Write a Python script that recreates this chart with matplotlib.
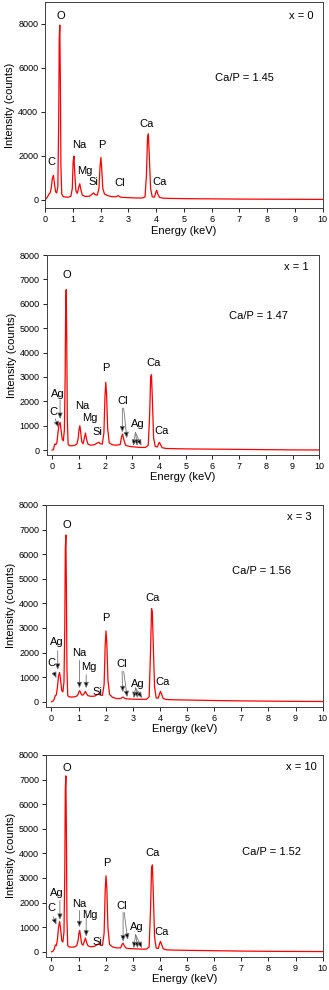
import matplotlib
matplotlib.use("Agg")
import matplotlib.pyplot as plt

plt.rcParams['font.family'] = ['Liberation Sans', 'DejaVu Sans']

# shared energy grid (keV)
energy = [0.00, 0.05, 0.10, 0.14, 0.18, 0.22, 0.26, 0.30, 0.34, 0.38, 0.42, 0.46,
          0.49, 0.51, 0.53, 0.55, 0.57, 0.60, 0.65, 0.75, 0.85, 0.93, 0.98, 1.01,
          1.04, 1.07, 1.11, 1.16, 1.21, 1.25, 1.29, 1.34, 1.45, 1.60, 1.70, 1.75,
          1.80, 1.88, 1.94, 1.98, 2.01, 2.04, 2.08, 2.14, 2.25, 2.40, 2.55, 2.60,
          2.64, 2.68, 2.75, 2.90, 3.10, 3.30, 3.50, 3.60, 3.65, 3.69, 3.72, 3.75,
          3.80, 3.86, 3.94, 3.99, 4.02, 4.06, 4.12, 4.25, 4.5, 5, 6, 7, 8, 9, 10]

counts_x0 = [0, 50, 150, 250, 300, 500, 950, 1100, 700, 350, 300, 600,
             3500, 7300, 7950, 5500, 1500, 250, 130, 110, 110, 150, 500, 1700,
             1980, 1200, 400, 280, 550, 720, 450, 200, 140, 150, 250, 300,
             220, 200, 500, 1500, 1920, 1400, 500, 250, 180, 130, 120, 160,
             180, 130, 100, 90, 80, 70, 70, 120, 1100, 2800, 2990, 2100,
             500, 120, 110, 330, 420, 250, 100, 60, 50, 40, 30, 20, 15, 10, 5]

counts_x1 = [0, 20, 250, 230, 300, 700, 1050, 1140, 800, 450, 380, 800,
             3000, 6000, 6580, 4500, 1300, 250, 180, 180, 200, 250, 500, 850,
             1000, 750, 350, 260, 500, 700, 450, 250, 200, 230, 300, 320,
             260, 250, 700, 2200, 2780, 2300, 900, 300, 220, 200, 230, 550,
             660, 450, 200, 150, 130, 110, 110, 200, 1400, 3000, 3090, 2200,
             500, 150, 130, 270, 320, 220, 100, 70, 60, 50, 40, 30, 20, 10, 5]

counts_x3 = [0, 20, 100, 250, 280, 600, 1050, 1190, 850, 450, 400, 800,
             3000, 6200, 6780, 4600, 1300, 250, 200, 190, 200, 230, 300, 400,
             450, 380, 280, 270, 350, 420, 330, 250, 220, 230, 300, 320,
             270, 260, 700, 2300, 2880, 2400, 900, 300, 180, 130, 130, 170,
             190, 150, 120, 110, 100, 100, 100, 200, 2000, 3790, 3600, 2400,
             600, 150, 150, 350, 420, 300, 130, 90, 80, 70, 50, 35, 25, 15, 10]

counts_x10 = [0, 20, 100, 280, 250, 500, 1000, 1230, 900, 450, 400, 800,
              3200, 6600, 7150, 4800, 1300, 250, 200, 190, 200, 250, 450, 750,
              870, 650, 330, 270, 420, 560, 400, 250, 200, 230, 300, 320,
              270, 260, 750, 2500, 3090, 2600, 1000, 300, 200, 160, 160, 300,
              350, 250, 150, 130, 120, 110, 110, 200, 1700, 3400, 3530, 2500,
              600, 150, 140, 350, 420, 300, 120, 80, 70, 60, 45, 30, 20, 15, 10]

panel_names = ["x = 0", "x = 1", "x = 3", "x = 10"]
ratios = ["Ca/P = 1.45", "Ca/P = 1.47", "Ca/P = 1.56", "Ca/P = 1.52"]

fig = plt.figure(figsize=(3.29, 9.9), dpi=100)

positions = [[0.137, 0.7896, 0.844, 0.2084],
             [0.142, 0.5404, 0.8285, 0.202],
             [0.140, 0.2862, 0.841, 0.2037],
             [0.140, 0.0336, 0.841, 0.2038]]

arrow = dict(arrowstyle='-|>,head_length=0.35,head_width=0.15', ec='0.45', fc='k',
             lw=0.6, shrinkA=0, shrinkB=0)
fs = 8


def setup(ax, ymax, ystep, xmin, ymin):
    ax.set_xlim(xmin, 10)
    ax.set_ylim(ymin, ymax)
    ax.set_xticks(range(0, 11))
    ax.set_yticks(range(0, 8001, ystep))
    ax.tick_params(direction='out', length=3, width=0.6, labelsize=6.5, pad=2)
    for s in ax.spines.values():
        s.set_linewidth(0.7)
        s.set_color('0.25')
    ax.set_xlabel("Energy (keV)", fontsize=8, labelpad=1)
    ax.set_ylabel("Intensity (counts)", fontsize=8, labelpad=2)


all_counts = [counts_x0, counts_x1, counts_x3, counts_x10]
axes = []
for i in range(4):
    ax = fig.add_axes(positions[i])
    ax.plot(energy, all_counts[i], color='red', lw=0.9)
    if i == 0:
        setup(ax, 9000, 2000, 0, -400)
    else:
        setup(ax, 8000, 1000, -0.2, -200)
    axes.append(ax)

# panel x = 0
ax = axes[0]
ax.text(0.58, 8380, "O", fontsize=fs, ha='center', va='center')
ax.text(9.24, 8380, panel_names[0], fontsize=fs, ha='center', va='center')
ax.text(7.18, 5550, ratios[0], fontsize=fs, ha='center', va='center')
ax.text(0.24, 1700, "C", fontsize=fs, ha='center', va='center')
ax.text(1.22, 2490, "Na", fontsize=fs, ha='center', va='center')
ax.text(1.42, 1310, "Mg", fontsize=fs, ha='center', va='center')
ax.text(1.74, 780, "Si", fontsize=fs, ha='center', va='center')
ax.text(2.06, 2490, "P", fontsize=fs, ha='center', va='center')
ax.text(2.70, 750, "Cl", fontsize=fs, ha='center', va='center')
ax.text(3.66, 3440, "Ca", fontsize=fs, ha='center', va='center')
ax.text(4.14, 780, "Ca", fontsize=fs, ha='center', va='center')

# panel x = 1
ax = axes[1]
ax.text(0.56, 7170, "O", fontsize=fs, ha='center', va='center')
ax.text(9.13, 7520, panel_names[1], fontsize=fs, ha='center', va='center')
ax.text(7.73, 5490, ratios[1], fontsize=fs, ha='center', va='center')
ax.text(0.20, 2300, "Ag", fontsize=fs, ha='center', va='center')
ax.annotate("", xy=(0.30, 1280), xytext=(0.30, 2060), arrowprops=arrow)
ax.text(0.05, 1550, "C", fontsize=fs, ha='center', va='center')
ax.annotate("", xy=(0.24, 930), xytext=(0.12, 1280), arrowprops=arrow)
ax.text(1.12, 1820, "Na", fontsize=fs, ha='center', va='center')
ax.text(1.42, 1320, "Mg", fontsize=fs, ha='center', va='center')
ax.text(1.70, 750, "Si", fontsize=fs, ha='center', va='center')
ax.text(2.02, 3360, "P", fontsize=fs, ha='center', va='center')
ax.text(2.63, 2000, "Cl", fontsize=fs, ha='center', va='center')
ax.annotate("", xy=(2.63, 730), xytext=(2.63, 1720), arrowprops=arrow)
ax.annotate("", xy=(2.80, 490), xytext=(2.68, 1720), arrowprops=arrow)
ax.text(3.22, 1070, "Ag", fontsize=fs, ha='center', va='center')
for xt in [3.04, 3.19, 3.34]:
    ax.annotate("", xy=(xt, 180), xytext=(3.12, 730), arrowprops=arrow)
ax.text(3.78, 3570, "Ca", fontsize=fs, ha='center', va='center')
ax.text(4.11, 770, "Ca", fontsize=fs, ha='center', va='center')

# panel x = 3
ax = axes[2]
ax.text(0.55, 7190, "O", fontsize=fs, ha='center', va='center')
ax.text(9.14, 7520, panel_names[2], fontsize=fs, ha='center', va='center')
ax.text(7.75, 5330, ratios[2], fontsize=fs, ha='center', va='center')
ax.text(0.18, 2410, "Ag", fontsize=fs, ha='center', va='center')
ax.annotate("", xy=(0.23, 1300), xytext=(0.23, 2080), arrowprops=arrow)
ax.text(0.0, 1570, "C", fontsize=fs, ha='center', va='center')
ax.annotate("", xy=(0.18, 960), xytext=(0.09, 1190), arrowprops=arrow)
ax.text(1.03, 2000, "Na", fontsize=fs, ha='center', va='center')
ax.annotate("", xy=(1.03, 550), xytext=(1.03, 1680), arrowprops=arrow)
ax.text(1.37, 1430, "Mg", fontsize=fs, ha='center', va='center')
ax.annotate("", xy=(1.28, 550), xytext=(1.28, 1100), arrowprops=arrow)
ax.text(1.68, 390, "Si", fontsize=fs, ha='center', va='center')
ax.text(2.02, 3400, "P", fontsize=fs, ha='center', va='center')
ax.text(2.60, 1540, "Cl", fontsize=fs, ha='center', va='center')
ax.annotate("", xy=(2.63, 390), xytext=(2.60, 1240), arrowprops=arrow)
ax.annotate("", xy=(2.79, 190), xytext=(2.66, 1240), arrowprops=arrow)
ax.text(3.18, 730, "Ag", fontsize=fs, ha='center', va='center')
for xt in [3.03, 3.18, 3.34]:
    ax.annotate("", xy=(xt, 150), xytext=(3.10, 560), arrowprops=arrow)
ax.text(3.71, 4210, "Ca", fontsize=fs, ha='center', va='center')
ax.text(4.10, 800, "Ca", fontsize=fs, ha='center', va='center')

# panel x = 10
ax = axes[3]
ax.text(0.55, 7460, "O", fontsize=fs, ha='center', va='center')
ax.text(9.23, 7520, panel_names[3], fontsize=fs, ha='center', va='center')
ax.text(8.12, 4060, ratios[3], fontsize=fs, ha='center', va='center')
ax.text(0.21, 2410, "Ag", fontsize=fs, ha='center', va='center')
ax.annotate("", xy=(0.31, 1300), xytext=(0.31, 2080), arrowprops=arrow)
ax.text(0.0, 1770, "C", fontsize=fs, ha='center', va='center')
ax.annotate("", xy=(0.18, 1100), xytext=(0.06, 1430), arrowprops=arrow)
ax.text(1.04, 1950, "Na", fontsize=fs, ha='center', va='center')
ax.annotate("", xy=(1.03, 1000), xytext=(1.03, 1680), arrowprops=arrow)
ax.text(1.41, 1500, "Mg", fontsize=fs, ha='center', va='center')
ax.annotate("", xy=(1.28, 620), xytext=(1.28, 1680), arrowprops=arrow)
ax.text(1.68, 390, "Si", fontsize=fs, ha='center', va='center')
ax.text(2.05, 3600, "P", fontsize=fs, ha='center', va='center')
ax.text(2.57, 1880, "Cl", fontsize=fs, ha='center', va='center')
ax.annotate("", xy=(2.64, 420), xytext=(2.64, 1600), arrowprops=arrow)
ax.annotate("", xy=(2.81, 490), xytext=(2.68, 1600), arrowprops=arrow)
ax.text(3.15, 1000, "Ag", fontsize=fs, ha='center', va='center')
for xt in [3.03, 3.18, 3.34]:
    ax.annotate("", xy=(xt, 150), xytext=(3.10, 700), arrowprops=arrow)
ax.text(3.71, 4000, "Ca", fontsize=fs, ha='center', va='center')
ax.text(4.06, 800, "Ca", fontsize=fs, ha='center', va='center')

fig.savefig("out.png", dpi=100)
